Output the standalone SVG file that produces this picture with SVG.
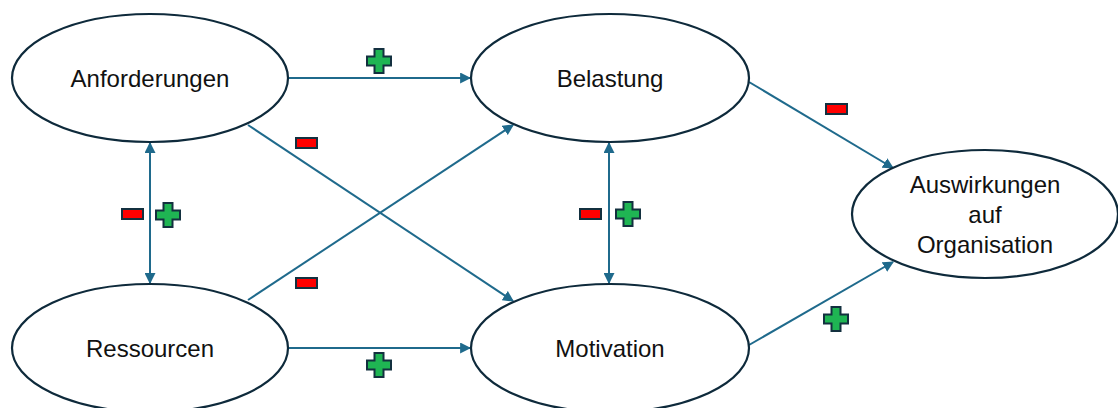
<svg xmlns="http://www.w3.org/2000/svg" width="1118" height="408" viewBox="0 0 1118 408">
  <style>
    .node ellipse { fill: #ffffff; stroke: #0e2a3b; stroke-width: 2.2; }
    .node text { font-family: "Liberation Sans", Arial, sans-serif; font-size: 24px; fill: #111111; text-anchor: middle; }
    .edge { stroke: #1f6a8c; stroke-width: 2; fill: none; }
    .minus { fill: #ff0000; stroke: #13303f; stroke-width: 2; }
    .plus { fill: #1fb553; stroke: #13303f; stroke-width: 2; }
  </style>
  <defs>
    <marker id="arrow" viewBox="0 0 10 10" refX="9" refY="5" markerWidth="5.5" markerHeight="5.5" orient="auto-start-reverse" markerUnits="strokeWidth">
      <path d="M0,0 L10,5 L0,10 Z" fill="#1f6a8c"/>
    </marker>
    <path id="plusShape" d="M-4.5,-12 H4.5 V-4.5 H12 V4.5 H4.5 V12 H-4.5 V4.5 H-12 V-4.5 H-4.5 Z"/>
  </defs>

  <rect width="1118" height="408" fill="#ffffff"/>

  <!-- connectors -->
  <g id="connectors">
    <line class="edge" x1="289" y1="78" x2="470" y2="78" marker-end="url(#arrow)"/>
    <line class="edge" x1="289" y1="348" x2="470" y2="348" marker-end="url(#arrow)"/>
    <line class="edge" x1="150" y1="143" x2="150" y2="283" marker-start="url(#arrow)" marker-end="url(#arrow)"/>
    <line class="edge" x1="609" y1="143" x2="609" y2="283" marker-start="url(#arrow)" marker-end="url(#arrow)"/>
    <line class="edge" x1="248" y1="125" x2="513" y2="301" marker-end="url(#arrow)"/>
    <line class="edge" x1="248" y1="300" x2="513" y2="125" marker-end="url(#arrow)"/>
    <line class="edge" x1="749" y1="82" x2="893" y2="168" marker-end="url(#arrow)"/>
    <line class="edge" x1="749" y1="345" x2="893" y2="262" marker-end="url(#arrow)"/>
  </g>

  <!-- signs -->
  <g id="signs">
    <use href="#plusShape" class="plus" x="379" y="61"/>
    <use href="#plusShape" class="plus" x="379" y="365"/>
    <use href="#plusShape" class="plus" x="168" y="215"/>
    <use href="#plusShape" class="plus" x="628" y="214"/>
    <use href="#plusShape" class="plus" x="836" y="319"/>
    <rect class="minus" x="296" y="138" width="21" height="10"/>
    <rect class="minus" x="296" y="278" width="21" height="10"/>
    <rect class="minus" x="122" y="209" width="21" height="10"/>
    <rect class="minus" x="580" y="209" width="21" height="10"/>
    <rect class="minus" x="826" y="104" width="21" height="10"/>
  </g>

  <!-- nodes -->
  <g id="anforderungen" class="node">
    <ellipse cx="150" cy="78" rx="138" ry="64"/>
    <text x="150" y="87">Anforderungen</text>
  </g>
  <g id="belastung" class="node">
    <ellipse cx="610" cy="78" rx="139" ry="64"/>
    <text x="610" y="87">Belastung</text>
  </g>
  <g id="ressourcen" class="node">
    <ellipse cx="150" cy="348" rx="138" ry="64"/>
    <text x="150" y="357">Ressourcen</text>
  </g>
  <g id="motivation" class="node">
    <ellipse cx="610" cy="348" rx="139" ry="64"/>
    <text x="610" y="357">Motivation</text>
  </g>
  <g id="auswirkungen" class="node">
    <ellipse cx="985" cy="214" rx="133" ry="64"/>
    <text x="985" y="193">Auswirkungen</text>
    <text x="985" y="223">auf</text>
    <text x="985" y="253">Organisation</text>
  </g>
</svg>
